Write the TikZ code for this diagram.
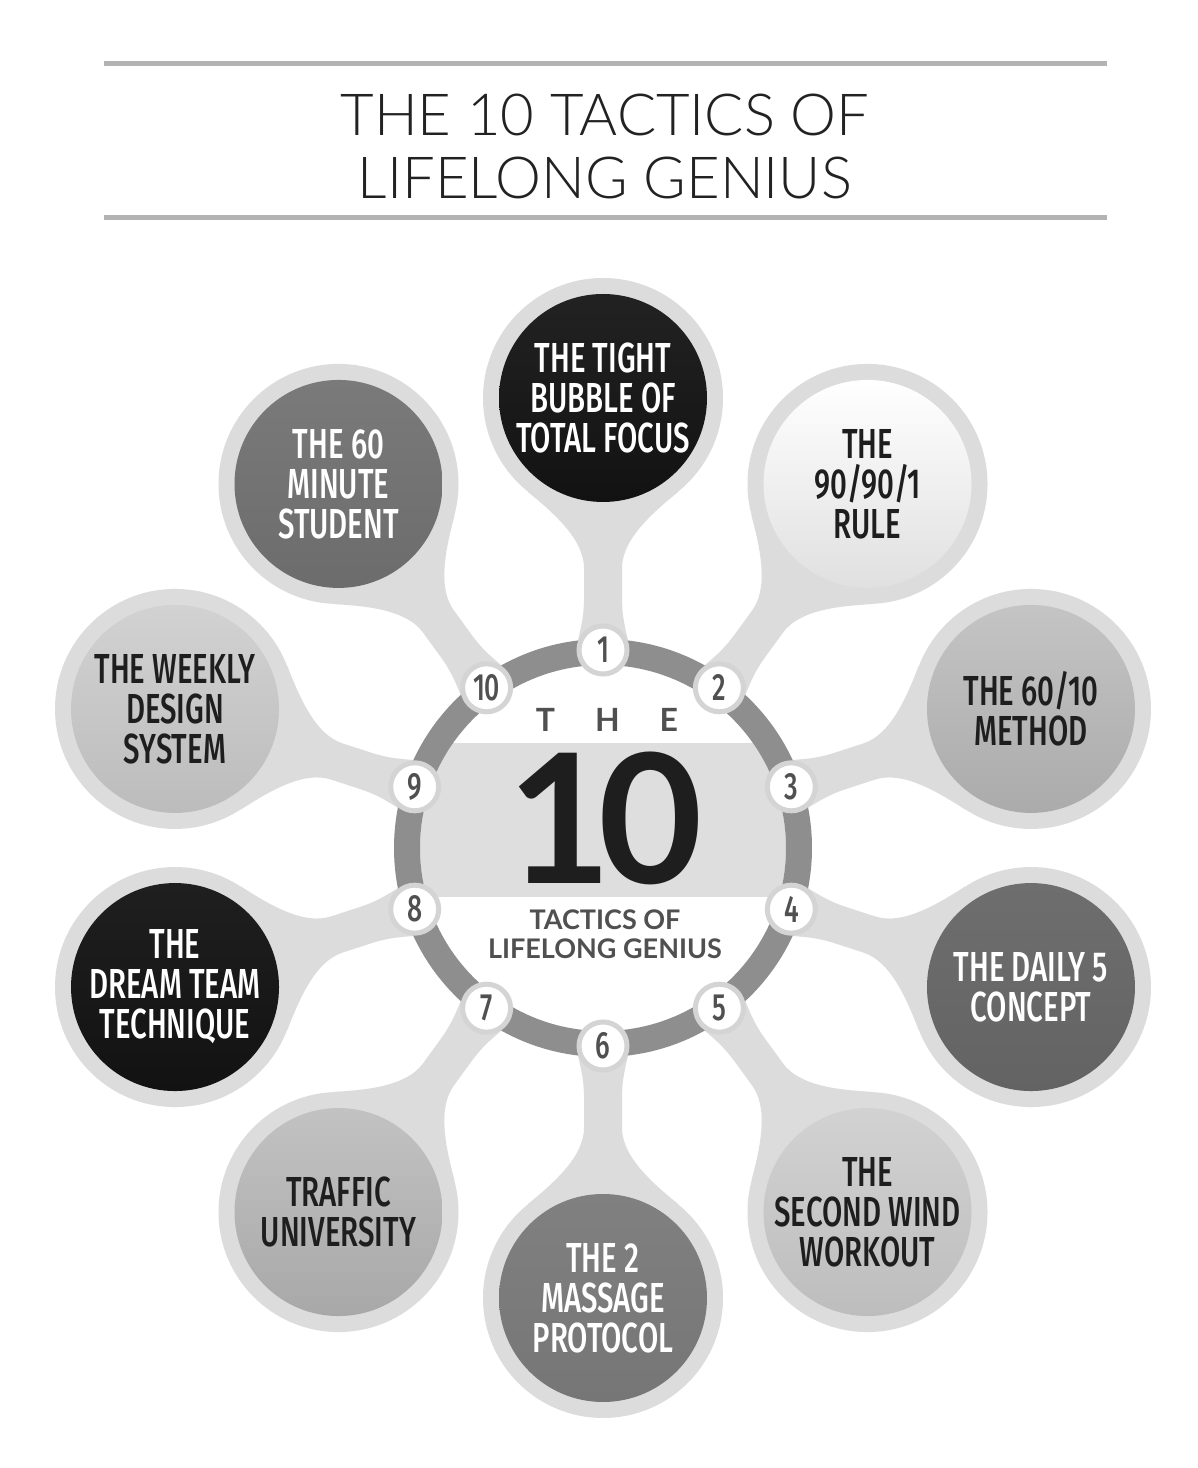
\documentclass[tikz,border=0pt]{standalone}
\usepackage{fontspec}
\setmainfont{Lato}
\newfontfamily\latolight{Lato Light}
\newfontfamily\bubfont[FakeStretch=0.70]{Fira Sans Medium}
\usetikzlibrary{calc}
\definecolor{stemc}{HTML}{DCDCDC}
\definecolor{ringc}{HTML}{8E8E8E}
\definecolor{bandc}{HTML}{DEDEDE}
\definecolor{rulec}{HTML}{B3B3B3}
\definecolor{numc}{HTML}{505050}
\definecolor{numborder}{HTML}{D4D4D4}
\definecolor{darktxt}{HTML}{1E1E1E}
\definecolor{titlec}{HTML}{222222}
\begin{document}
\begin{tikzpicture}[x=1pt,y=1pt,
  bubtext/.style={font=\bubfont\fontsize{42}{40}\selectfont, align=center, inner sep=0pt},
  numnode/.style={circle, fill=white, draw=numborder, line width=5pt, minimum size=48pt, inner sep=0pt, font=\bubfont\fontsize{38}{38}\selectfont, text=numc},
  outerb/.style={circle, fill=stemc, minimum size=240pt, inner sep=0pt},
  rulestyle/.style={rulec, line width=5pt},
  centertxt/.style={font=\bfseries\fontsize{27}{29}\selectfont, text=numc, inner sep=0pt, align=center},
  titletxt/.style={font=\latolight\fontsize{58}{58}\selectfont, text=titlec, inner sep=0pt}
]
\useasboundingbox (0,0) rectangle (1198,1468);
\fill[white] (0,0) rectangle (1198,1468);

% title
\coordinate (r1a) at (104,1404); \coordinate (r1b) at (1107,1404);
\coordinate (r2a) at (104,1250); \coordinate (r2b) at (1107,1250);
\draw[rulestyle] (r1a) -- (r1b);
\draw[rulestyle] (r2a) -- (r2b);
\node[titletxt] (title1) at (605,1353) {THE 10 TACTICS OF};
\node[titletxt] (title2) at (605,1290) {LIFELONG GENIUS};

\coordinate (C) at (603,620);

% stems
\foreach \ang in {90,54,18,-18,-54,-90,-126,-162,162,126}{
  \begin{scope}[shift={(C)}, rotate=\ang]
    \fill[stemc] (200,0) -- (204.5,25.6) .. controls (216.3,23.5) and (228,19) .. (250,19)
      -- (280,19) .. controls (308,19) and (334,48) .. (356,75) -- (420,75)
      -- (420,-75) -- (356,-75) .. controls (334,-48) and (308,-19) .. (280,-19)
      -- (250,-19) .. controls (228,-19) and (216.3,-23.5) .. (204.5,-25.6) -- cycle;
  \end{scope}
}

% ring and band
\begin{scope}
  \clip (C) circle (183);
  \fill[bandc] ($(C)+(-200,-49)$) rectangle ($(C)+(200,105)$);
\end{scope}
\draw[ringc, line width=26pt] (C) circle (196);

% bubbles
\foreach \k/\ang/\tc/\bc in {1/90/222222/121212, 2/54/FFFFFF/E0E0E0, 3/18/C4C4C4/ABABAB,
  4/-18/6E6E6E/636363, 5/-54/D2D2D2/BDBDBD, 6/-90/808080/767676, 7/-126/C2C2C2/A8A8A8,
  8/-162/1F1F1F/121212, 9/162/D2D2D2/BCBCBC, 10/126/7A7A7A/6C6C6C}{
  \definecolor{topc}{HTML}{\tc}
  \definecolor{botc}{HTML}{\bc}
  \node[outerb] (b\k) at ($(C)+(\ang:450)$) {};
  \shade[top color=topc, bottom color=botc] (b\k.center) circle (104);
  \node[numnode] (n\k) at ($(C)+(\ang:198)$) {\k};
}

\node[bubtext, text=white] (t1) at (b1) {THE TIGHT\\BUBBLE OF\\TOTAL FOCUS};
\node[bubtext, text=darktxt] (t2) at (b2) {THE\\90/90/1\\RULE};
\node[bubtext, text=darktxt] (t3) at (b3) {THE 60/10\\METHOD};
\node[bubtext, text=white] (t4) at (b4) {THE DAILY 5\\CONCEPT};
\node[bubtext, text=darktxt] (t5) at (b5) {THE\\SECOND WIND\\WORKOUT};
\node[bubtext, text=white] (t6) at (b6) {THE 2\\MASSAGE\\PROTOCOL};
\node[bubtext, text=darktxt] (t7) at (b7) {TRAFFIC\\UNIVERSITY};
\node[bubtext, text=white] (t8) at (b8) {THE\\DREAM TEAM\\TECHNIQUE};
\node[bubtext, text=darktxt] (t9) at (b9) {THE WEEKLY\\DESIGN\\SYSTEM};
\node[bubtext, text=white] (t10) at (b10) {THE 60\\MINUTE\\STUDENT};

% centre text
\node[font=\bfseries\fontsize{32}{32}\selectfont, text=numc, inner sep=0pt] (the) at (607,748) {T\hspace{40pt}H\hspace{40pt}E};
\node[font=\bfseries\fontsize{180}{180}\selectfont, text=darktxt, inner sep=0pt] (ten) at (605,650) {1\kern-14pt0};
\node[centertxt] (tac) at (605,534) {TACTICS OF\\LIFELONG GENIUS};
\end{tikzpicture}
\end{document}
